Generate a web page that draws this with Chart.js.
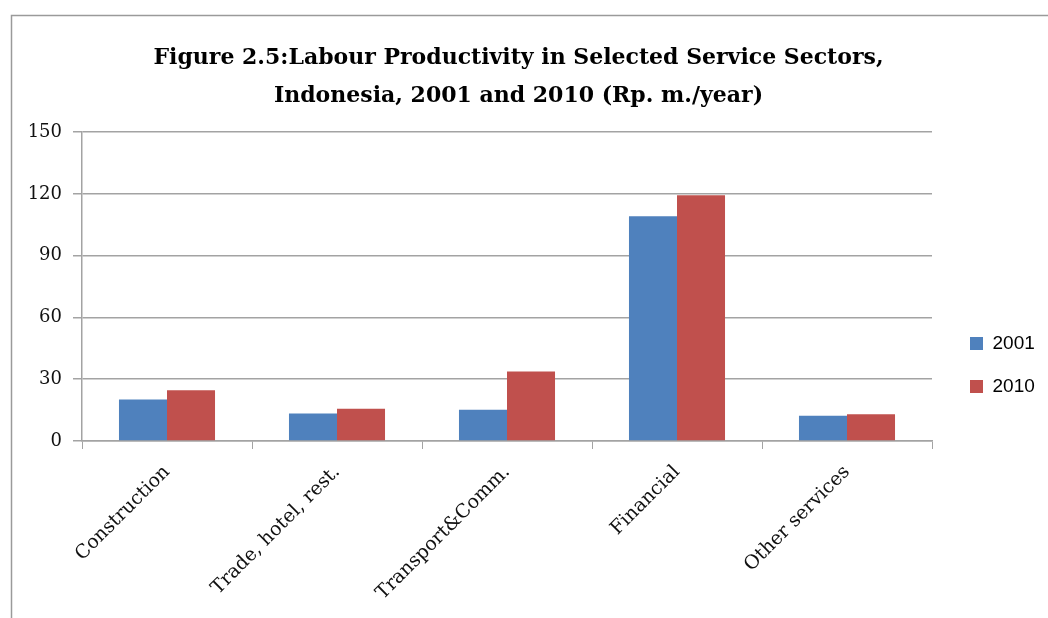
<!DOCTYPE html>
<html>
<head>
<meta charset="utf-8">
<script src="https://cdn.jsdelivr.net/npm/chart.js@4.4.1/dist/chart.umd.min.js"></script>
<style>
html,body{margin:0;padding:0;background:#fff;}
#wrap{width:1048px;height:618px;position:relative;}
</style>
</head>
<body>
<div id="wrap"><canvas id="c" width="1048" height="618"></canvas></div>
<script>
const categories = ['Construction', 'Trade, hotel, rest.', 'Transport&Comm.', 'Financial', 'Other services'];
const series2001 = [20.1, 13.4, 15.2, 109.2, 12.3];
const series2010 = [24.6, 15.7, 33.7, 119.3, 13.0];
const seriesNames = ['2001', '2010'];
const yTicks = [0, 30, 60, 90, 120, 150];
const titleLines = ['Figure 2.5:Labour Productivity in Selected Service Sectors,', 'Indonesia, 2001 and 2010 (Rp. m./year)'];

const GRID = '#a3a3a3';
const SERIF = '"DejaVu Serif", "Liberation Serif", serif';

const framePlugin = {
  id: 'frame',
  beforeDraw(chart) {
    const ctx = chart.ctx;
    ctx.save();
    ctx.fillStyle = '#fff';
    ctx.fillRect(0, 0, chart.width, chart.height);
    ctx.strokeStyle = '#9a9a9a';
    ctx.lineWidth = 1.5;
    ctx.strokeRect(11.5, 15.5, 1100, 700);
    ctx.restore();
  }
};

const legendPlace = {
  id: 'legendPlace',
  afterInit(chart) {
    const lg = chart.legend;
    if (lg) {
      const origFit = lg.fit;
      lg.fit = function () { origFit.call(this); this.width = 105; };
    }
  },
  afterLayout(chart) {
    const lg = chart.legend;
    if (lg) {
      lg.left = 946; lg.right = 1048;
      lg.top = 310; lg.bottom = 440;
    }
  }
};

new Chart(document.getElementById('c'), {
  type: 'bar',
  data: {
    labels: categories,
    datasets: [
      { label: seriesNames[0], data: series2001, backgroundColor: '#4F81BD', borderWidth: 0 },
      { label: seriesNames[1], data: series2010, backgroundColor: '#C0504D', borderWidth: 0 }
    ]
  },
  options: {
    responsive: false,
    animation: false,
    layout: { padding: { left: 0, right: 11, top: 0, bottom: 0 } },
    datasets: { bar: { categoryPercentage: 0.565, barPercentage: 1.0 } },
    plugins: {
      title: {
        display: true,
        text: titleLines,
        color: '#000',
        font: { family: SERIF, size: 22, weight: 'bold', lineHeight: 1.73 },
        padding: { top: 39, bottom: 17 }
      },
      legend: {
        display: true,
        position: 'right',
        align: 'start',
        labels: {
          color: '#000',
          font: { family: '"Liberation Sans", Arial, sans-serif', size: 19 },
          boxWidth: 13, boxHeight: 13,
          padding: 24
        }
      },
      tooltip: { enabled: false }
    },
    scales: {
      x: {
        grid: { display: true, drawOnChartArea: false, drawTicks: true, tickLength: 8, color: GRID, offset: true },
        border: { display: true, color: GRID, width: 1.5 },
        ticks: {
          autoSkip: false, minRotation: 45, maxRotation: 45,
          color: '#111', padding: 12,
          font: { family: SERIF, size: 19 }
        },
        afterFit(scale) { scale.height = 177; }
      },
      y: {
        min: 0, max: 150,
        afterBuildTicks(scale) { scale.ticks = yTicks.map(v => ({ value: v })); },
        grid: { color: GRID, lineWidth: 1.5, tickLength: 9, drawTicks: true },
        border: { display: true, color: GRID, width: 1.5 },
        ticks: {
          color: '#111', padding: 11,
          font: { family: SERIF, size: 18 }
        },
        afterFit(scale) { scale.width = 82; }
      }
    }
  },
  plugins: [framePlugin, legendPlace]
});
</script>
</body>
</html>
